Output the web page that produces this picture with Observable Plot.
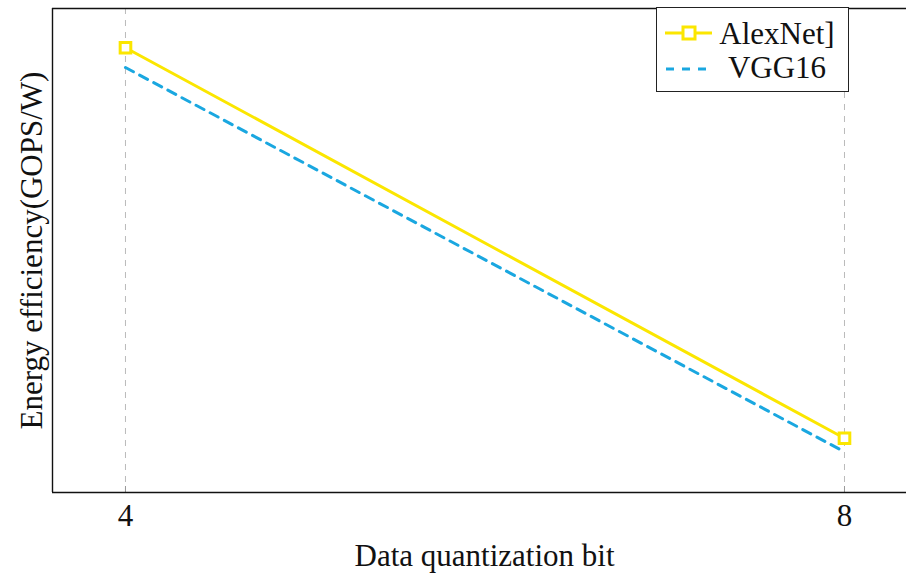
<!DOCTYPE html>
<html>
<head>
<meta charset="utf-8">
<script src="https://cdn.jsdelivr.net/npm/d3@7"></script>
<script src="https://cdn.jsdelivr.net/npm/@observablehq/plot@0.6"></script>
<style>
  html, body { margin: 0; padding: 0; background: #fff; }
  #wrap { position: relative; width: 906px; height: 577px; font-family: "Liberation Serif", "Times New Roman", serif; }
  #legend { position: absolute; left: 656px; top: 7px; width: 193px; height: 85px; box-sizing: border-box; border: 1.2px solid #222; background: #fff; }
</style>
</head>
<body>
<div id="wrap"><div id="legend"></div></div>
<script>
// ---- data ----
const bits = [4, 8];
const alexnet = [91.9, 11.2];
const vgg16 = [87.8, 8.4];
const seriesNames = ["AlexNet]", "VGG16"];
const xTicks = [4, 8];
const xLabel = "Data quantization bit";
const yLabel = "Energy efficiency(GOPS/W)";

const yellow = "#fbe600";
const blue = "#1aa7e0";
const font = "Liberation Serif, Times New Roman, serif";
const fs = 31;

const rows = [];
bits.forEach((b, i) => {
  rows.push({ bit: b, value: alexnet[i], series: seriesNames[0] });
  rows.push({ bit: b, value: vgg16[i], series: seriesNames[1] });
});
const alexRows = rows.filter(d => d.series === seriesNames[0]);
const vggRows = rows.filter(d => d.series === seriesNames[1]);

const xDomain = [3.594, 8.345];
const yDomain = [0, 100];

const chart = Plot.plot({
  width: 906,
  height: 577,
  marginLeft: 52,
  marginRight: 0,
  marginTop: 8,
  marginBottom: 85,
  style: { fontFamily: font, fontSize: fs + "px", background: "transparent", overflow: "visible" },
  x: { domain: xDomain, label: null },
  y: { domain: yDomain, axis: null },
  marks: [
    Plot.gridX(xTicks, { stroke: "#bbb", strokeOpacity: 1, strokeWidth: 1, strokeDasharray: "6,6" }),
    Plot.axisX(xTicks, { tickSize: -6, tickPadding: 17, stroke: "#999", strokeOpacity: 1, fill: "#111", fontSize: fs, tickFormat: d => String(d), label: null }),
    Plot.ruleY([yDomain[0]], { stroke: "#111", strokeWidth: 1.4 }),
    Plot.ruleY([yDomain[1]], { stroke: "#111", strokeWidth: 1.4 }),
    Plot.ruleX([xDomain[0]], { stroke: "#111", strokeWidth: 1.4 }),
    Plot.line(vggRows, { x: "bit", y: "value", stroke: blue, strokeWidth: 3, strokeDasharray: "9,7" }),
    Plot.line(alexRows, { x: "bit", y: "value", stroke: yellow, strokeWidth: 3 }),
    Plot.dot(alexRows, { x: "bit", y: "value", symbol: "square", r: 6, stroke: yellow, fill: "#fff", strokeWidth: 3 }),
    Plot.text([xLabel], { frameAnchor: "bottom", dy: 64, dx: 5, textAnchor: "middle", lineAnchor: "middle", fontSize: fs, fill: "#111" }),
    Plot.text([yLabel], { frameAnchor: "left", rotate: -90, dx: -20, textAnchor: "middle", lineAnchor: "middle", fontSize: fs, fill: "#111" })
  ]
});
document.getElementById("wrap").prepend(chart);

// ---- legend ----
const lg = d3.select("#legend").append("svg")
  .attr("width", 191).attr("height", 83)
  .style("position", "absolute").style("left", "0").style("top", "0")
  .style("font-family", font);
lg.append("line").attr("x1", 8).attr("x2", 55).attr("y1", 25).attr("y2", 25)
  .attr("stroke", yellow).attr("stroke-width", 3);
lg.append("rect").attr("x", 26).attr("y", 19).attr("width", 12).attr("height", 12)
  .attr("fill", "#fff").attr("stroke", yellow).attr("stroke-width", 3);
lg.append("text").attr("x", 120).attr("y", 36).attr("text-anchor", "middle")
  .attr("font-size", fs).attr("fill", "#111").text(seriesNames[0]);
lg.append("line").attr("x1", 9).attr("x2", 50).attr("y1", 61).attr("y2", 61)
  .attr("stroke", blue).attr("stroke-width", 3).attr("stroke-dasharray", "8,8");
lg.append("text").attr("x", 120).attr("y", 70).attr("text-anchor", "middle")
  .attr("font-size", fs).attr("fill", "#111").text(seriesNames[1]);
</script>
</body>
</html>
